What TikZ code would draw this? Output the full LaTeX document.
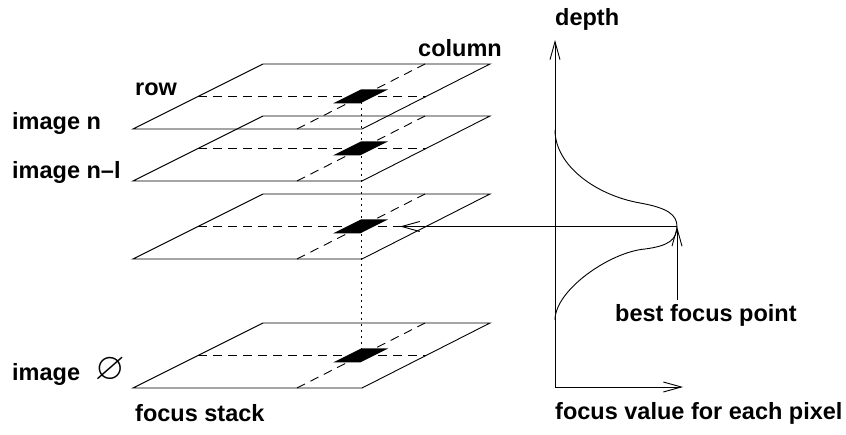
\documentclass[tikz,border=0pt]{standalone}
\usepackage{fontspec}
\usepackage{amssymb}
\setmainfont{Liberation Sans}
\usetikzlibrary{arrows.meta}
\begin{document}
\begin{tikzpicture}[x=1pt,y=-1pt,
  lbl/.style={anchor=base west,inner sep=0pt,font=\fontsize{23.5}{28}\selectfont\bfseries},
  outline/.style={line width=0.9pt},
  rowcol/.style={line width=0.9pt,dash pattern=on 9pt off 6pt},
  pix/.style={fill=black,draw=none},
  dotline/.style={line width=0.9pt,dash pattern=on 1.2pt off 4.8pt},
  arr/.style={line width=0.9pt,-{Straight Barb[length=18pt,width=10pt]}}]
\useasboundingbox (0,0) rectangle (846,435);
% dotted vertical line through pixels
\draw[dotline] (361,96.5) -- (361,355.5);
% planes
\foreach \yb in {129,181,259,388}{
  \pgfmathsetmacro{\yt}{\yb-65}
  \pgfmathsetmacro{\yc}{\yb-32.5}
  \draw[outline] (133,\yb) -- (362,\yb) -- (490,\yt) -- (263,\yt) -- cycle;
  \draw[rowcol] (198,\yc) -- (426,\yc);
  \draw[rowcol] (297,\yb) -- (425,\yt);
  \fill[pix] (333,\yc+7) -- (360,\yc+7) -- (388,\yc-7) -- (361,\yc-7) -- cycle;
}
% labels
\node[lbl] (row) at (135,96) {row};
\node[lbl] (column) at (418,57) {column};
\node[lbl] (imgn) at (12,130) {image n};
\node[lbl] (imgnl) at (12,179) {image n\textendash l};
\node[lbl] (img0) at (12,381) {image};
\node[inner sep=0pt] (zero) at (110,370) {\fontsize{38}{38}\selectfont$\varnothing$};
\node[lbl] (stack) at (135,421) {focus stack};
% graph
\coordinate (origin) at (555,387);
\coordinate (ytip) at (555,40);
\coordinate (xtip) at (683,387);
\coordinate (peak) at (677,226.5);
\coordinate (target) at (400,226.5);
\coordinate (bfp) at (677,300);
\draw[arr] (origin) -- (ytip);
\draw[arr] (origin) -- (xtip);
\draw[line width=0.9pt] (555,130) .. controls (555,165) and (595,195) .. (640,203)
  .. controls (668,208) and (677,215) .. (peak)
  .. controls (677,240) and (668,246) .. (645,249)
  .. controls (610,252) and (555,290) .. (555,320);
\draw[arr] (peak) -- (target);
\draw[arr] (bfp) -- (peak);
\node[lbl] (depth) at (555,26) {depth};
\node[lbl] (best) at (615,322) {best focus point};
\node[lbl] (fv) at (555,420) {focus value for each pixel};
\end{tikzpicture}
\end{document}
